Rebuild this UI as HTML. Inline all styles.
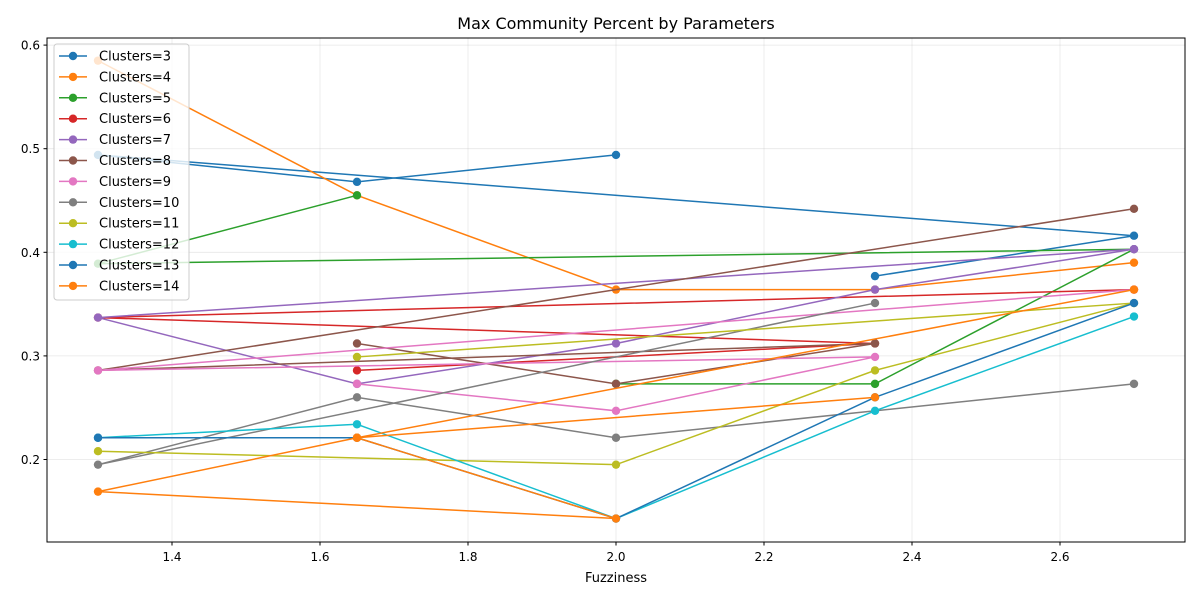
<!DOCTYPE html>
<html><head><meta charset="utf-8"><style>
body{margin:0;background:#fff;font-family:"Liberation Sans","DejaVu Sans",sans-serif}
svg text{font-family:"DejaVu Sans","Liberation Sans",sans-serif}
</style></head><body>
<svg id="chart" width="1200" height="600" xmlns="http://www.w3.org/2000/svg">
<rect width="1200" height="600" fill="#fff"/>
<text x="616" y="29" text-anchor="middle" font-size="16">Max Community Percent by Parameters</text>
<g id="grid"></g><g id="series"></g>
<rect x="47" y="38" width="1138" height="504" fill="none" stroke="#000" stroke-width="1"/>
<g id="axes"></g>
<text x="616" y="582" text-anchor="middle" font-size="13">Fuzziness</text>
<g id="legend"></g>
</svg>
<script>
const seriesNames=["Clusters=3","Clusters=4","Clusters=5","Clusters=6","Clusters=7","Clusters=8","Clusters=9","Clusters=10","Clusters=11","Clusters=12","Clusters=13","Clusters=14"];
const colors=["#1f77b4","#ff7f0e","#2ca02c","#d62728","#9467bd","#8c564b","#e377c2","#7f7f7f","#bcbd22","#17becf","#1f77b4","#ff7f0e"];
const s3x=[2.0,1.65,1.3,2.7,2.35], s3y=[0.494,0.468,0.494,0.416,0.377];
const s4x=[1.3,1.65,2.0,2.35,2.7], s4y=[0.585,0.455,0.364,0.364,0.390];
const s5x=[1.65,1.3,2.7,2.35,2.0], s5y=[0.455,0.389,0.403,0.273,0.273];
const s6x=[2.7,1.3,2.35,1.65], s6y=[0.364,0.337,0.312,0.286];
const s7x=[2.7,1.3,1.65,2.0,2.35,2.7], s7y=[0.403,0.337,0.273,0.312,0.364,0.403];
const s8x=[2.7,1.3,2.35,2.0,1.65], s8y=[0.442,0.286,0.312,0.273,0.312];
const s9x=[2.7,1.3,2.35,2.0,1.65], s9y=[0.364,0.286,0.299,0.247,0.273];
const s10x=[2.35,1.3,1.65,2.0,2.7], s10y=[0.351,0.195,0.260,0.221,0.273];
const s11x=[1.65,2.7,2.35,2.0,1.3], s11y=[0.299,0.351,0.286,0.195,0.208];
const s12x=[1.3,1.65,2.0,2.35,2.7], s12y=[0.221,0.234,0.143,0.247,0.338];
const s13x=[1.3,1.65,2.0,2.35,2.7], s13y=[0.221,0.221,0.143,0.260,0.351];
const s14x=[2.35,1.65,2.0,1.3,1.65,2.7], s14y=[0.260,0.221,0.143,0.169,0.221,0.364];
const xTicks=[1.4,1.6,1.8,2.0,2.2,2.4,2.6];
const yTicks=[0.2,0.3,0.4,0.5,0.6];
const allX=[s3x,s4x,s5x,s6x,s7x,s8x,s9x,s10x,s11x,s12x,s13x,s14x];
const allY=[s3y,s4y,s5y,s6y,s7y,s8y,s9y,s10y,s11y,s12y,s13y,s14y];
const NS="http://www.w3.org/2000/svg";
function X(v){return 172+(v-1.4)*740;}
function Y(v){return 459.5-(v-0.2)*1036;}
function mk(t,a,p){const e=document.createElementNS(NS,t);for(const k in a)e.setAttribute(k,a[k]);p.appendChild(e);return e;}
const grid=document.getElementById('grid'),axes=document.getElementById('axes'),ser=document.getElementById('series'),leg=document.getElementById('legend');
xTicks.forEach(t=>{
 const g=mk('line',{x1:X(t),x2:X(t),y1:38,y2:542,stroke:'#b0b0b0','stroke-opacity':0.3,'stroke-width':0.8},grid);
 
 
 const tk=mk('line',{x1:X(t),x2:X(t),y1:542,y2:545.5,stroke:'#000'},axes);
 
 
 const l=mk('text',{x:X(t),y:561,'text-anchor':'middle','font-size':12},axes);l.textContent=t.toFixed(1);
 
 
});
yTicks.forEach(t=>{
 const g=mk('line',{x1:47,x2:1185,y1:Y(t),y2:Y(t),stroke:'#b0b0b0','stroke-opacity':0.3,'stroke-width':0.8},grid);
 
 
 const tk=mk('line',{x1:43.5,x2:47,y1:Y(t),y2:Y(t),stroke:'#000'},axes);
 
 
 const l=mk('text',{x:40,y:Y(t)+4.5,'text-anchor':'end','font-size':12},axes);l.textContent=t.toFixed(1);
 
 
});
allX.forEach((xs,i)=>{
 const g=mk('g',{},ser);
 
 
 const pts=xs.map((x,j)=>X(x)+','+Y(allY[i][j])).join(' ');
 const pl=mk('polyline',{points:pts,fill:'none',stroke:colors[i],'stroke-width':1.5},g);
 
 
 xs.forEach((x,j)=>{
  const c=mk('circle',{cx:X(x),cy:Y(allY[i][j]),r:4.2,fill:colors[i]},g);
  
  
 });
});
const lb=mk('rect',{x:54,y:44,width:135,height:256,rx:3,fill:'#fff','fill-opacity':0.8,stroke:'#ccc'},leg);


seriesNames.forEach((n,i)=>{
 const y=56+i*20.9;
 const g=mk('g',{},leg);
 
 
 mk('line',{x1:59,x2:87,y1:y,y2:y,stroke:colors[i],'stroke-width':1.5},g);
 mk('circle',{cx:73,cy:y,r:4.2,fill:colors[i]},g);
 const t=mk('text',{x:99,y:y+4.5,'font-size':13},g);t.textContent=n;
});
</script>
</body></html>
